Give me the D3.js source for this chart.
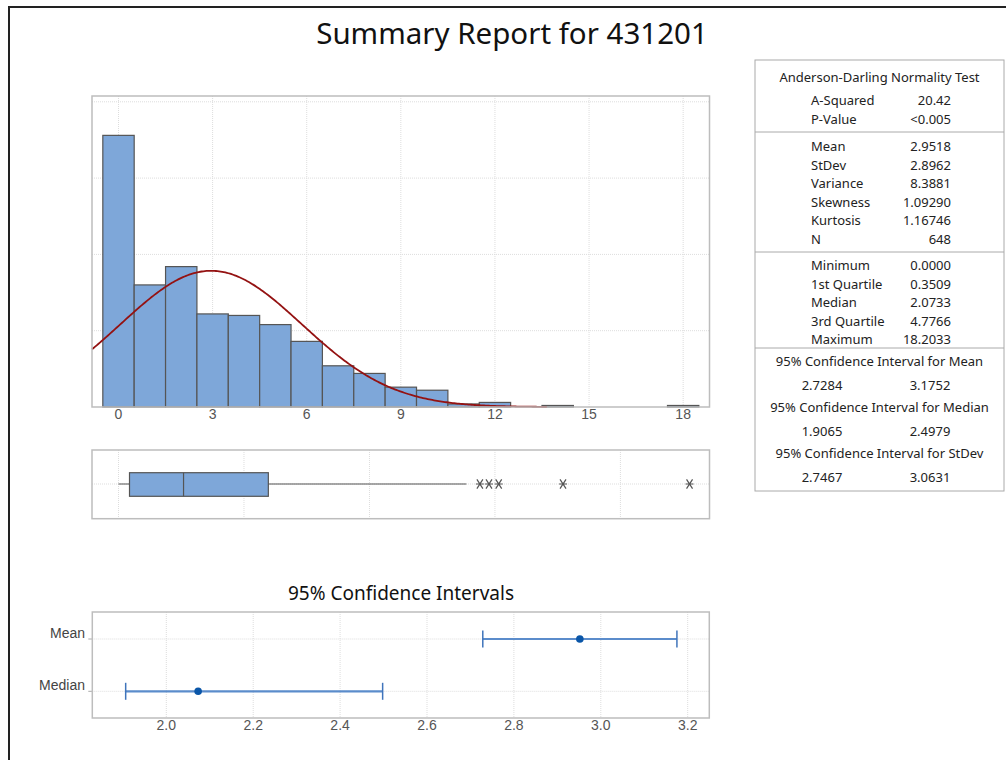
<!DOCTYPE html>
<html>
<head>
<meta charset="utf-8">
<script src="https://cdn.jsdelivr.net/npm/d3@7"></script>
<style>
  body { margin: 0; background: #fff; }
  svg { display: block; }
</style>
</head>
<body>
<svg id="chart" width="1006" height="760"></svg>
<script>
// histogram: bin centres (width 1) and counts
var binCenters = [0, 1, 2, 3, 4, 5, 6, 7, 8, 9, 10, 11, 12, 13, 14, 15, 16, 17, 18];
var binCounts = [178, 80, 92, 61, 60, 54, 43, 27, 22, 13, 11, 2, 3, 0, 1, 0, 0, 0, 1];
var histTicks = [0, 3, 6, 9, 12, 15, 18];
var histGridY = [50, 100, 150, 200];

// boxplot
var boxStats = {lo: 0, q1: 0.3509, med: 2.0733, q3: 4.7766, hi: 11.09};
var outliers = [11.52, 11.81, 12.12, 14.17, 18.2033];
var boxGrid = [0, 4, 8, 12, 16];

// confidence intervals
var ciRows = ['Mean', 'Median'];
var ciEst = [2.9518, 2.0733];
var ciLow = [2.7284, 1.9065];
var ciHigh = [3.1752, 2.4979];
var ciTicks = [2.0, 2.2, 2.4, 2.6, 2.8, 3.0, 3.2];

// summary table
var adRows = [['A-Squared', '20.42'], ['P-Value', '<0.005']];
var momentRows = [['Mean', '2.9518'], ['StDev', '2.8962'], ['Variance', '8.3881'],
                  ['Skewness', '1.09290'], ['Kurtosis', '1.16746'], ['N', '648']];
var quantRows = [['Minimum', '0.0000'], ['1st Quartile', '0.3509'], ['Median', '2.0733'],
                 ['3rd Quartile', '4.7766'], ['Maximum', '18.2033']];
var ciTable = [['95% Confidence Interval for Mean', '2.7284', '3.1752'],
               ['95% Confidence Interval for Median', '1.9065', '2.4979'],
               ['95% Confidence Interval for StDev', '2.7467', '3.0631']];

var N = 648, MEAN = 2.9518, SD = 2.8962;

var svg = d3.select('#chart');
var tickFont = '"Liberation Sans Narrow", "Liberation Sans", Arial, sans-serif';
var textFont = '"Noto Sans", "Open Sans", sans-serif';

// outer frame
svg.append('rect')
    .attr('x', 9).attr('y', 7).attr('width', 1100).attr('height', 800)
    .attr('fill', 'none').attr('stroke', '#222').attr('stroke-width', 2);

svg.append('text')
    .attr('x', 512).attr('y', 44)
    .attr('text-anchor', 'middle')
    .style('font-family', textFont).style('font-size', '29.5px').style('fill', '#111')
    .text('Summary Report for 431201');

// ---------- histogram ----------
var hx0 = 92, hx1 = 709.5, hy0 = 96, hy1 = 407;
var x = d3.scaleLinear()
    .domain([(hx0 - 118.5) / 31.37, (hx1 - 118.5) / 31.37])
    .range([hx0, hx1]);
var y = d3.scaleLinear().domain([0, (hy1 - hy0) / 1.526]).range([hy1, hy0]);

var hist = svg.append('g');

hist.selectAll('.vg').data(histTicks).enter().append('line')
    .attr('x1', function (d) { return x(d); }).attr('x2', function (d) { return x(d); })
    .attr('y1', hy0).attr('y2', hy1)
    .attr('stroke', '#ddd').attr('stroke-dasharray', '1,1');
hist.selectAll('.hg').data(histGridY).enter().append('line')
    .attr('x1', hx0).attr('x2', hx1)
    .attr('y1', function (d) { return y(d); }).attr('y2', function (d) { return y(d); })
    .attr('stroke', '#ddd').attr('stroke-dasharray', '1,1');

hist.selectAll('.bar').data(binCenters).enter().append('rect')
    .filter(function (d, i) { return binCounts[i] > 0; })
    .attr('x', function (d) { return x(d - 0.5); })
    .attr('width', function (d) { return x(d + 0.5) - x(d - 0.5); })
    .attr('y', function (d) { return y(binCounts[binCenters.indexOf(d)]); })
    .attr('height', function (d) { return hy1 - y(binCounts[binCenters.indexOf(d)]); })
    .attr('fill', '#7ea7d9').attr('stroke', '#555').attr('stroke-width', 1.2);

// fitted normal curve
var curveX = d3.range(x.domain()[0], 13.7, 0.05);
var normal = d3.line()
    .x(function (v) { return x(v); })
    .y(function (v) {
        var z = (v - MEAN) / SD;
        return y(N / (SD * Math.sqrt(2 * Math.PI)) * Math.exp(-0.5 * z * z));
    });
hist.append('path').datum(curveX)
    .attr('d', normal).attr('fill', 'none')
    .attr('stroke', '#941212').attr('stroke-width', 1.8);

hist.append('rect')
    .attr('x', hx0).attr('y', hy0).attr('width', hx1 - hx0).attr('height', hy1 - hy0)
    .attr('fill', 'none').attr('stroke', '#bdbdbd').attr('stroke-width', 1.5);

hist.selectAll('.xt').data(histTicks).enter().append('text')
    .attr('x', function (d) { return x(d); }).attr('y', 419)
    .attr('text-anchor', 'middle')
    .style('font-family', tickFont).style('font-size', '14px').style('fill', '#555')
    .text(function (d) { return d; });

// ---------- boxplot ----------
var by0 = 450, by1 = 518.7, bc = 484;
var box = svg.append('g');
box.selectAll('.bg').data(boxGrid).enter().append('line')
    .attr('x1', function (d) { return x(d); }).attr('x2', function (d) { return x(d); })
    .attr('y1', by0).attr('y2', by1)
    .attr('stroke', '#ddd').attr('stroke-dasharray', '1,1');
box.append('line')
    .attr('x1', hx0).attr('x2', hx1).attr('y1', bc).attr('y2', bc)
    .attr('stroke', '#ddd').attr('stroke-dasharray', '1,1');
box.append('line')
    .attr('x1', x(boxStats.lo)).attr('x2', x(boxStats.hi)).attr('y1', bc).attr('y2', bc)
    .attr('stroke', '#555').attr('stroke-width', 1.2);
box.append('rect')
    .attr('x', x(boxStats.q1)).attr('width', x(boxStats.q3) - x(boxStats.q1))
    .attr('y', 472.7).attr('height', 23.6)
    .attr('fill', '#7ea7d9').attr('stroke', '#555').attr('stroke-width', 1.2);
box.append('line')
    .attr('x1', x(boxStats.med)).attr('x2', x(boxStats.med)).attr('y1', 472.7).attr('y2', 496.3)
    .attr('stroke', '#555').attr('stroke-width', 1.2);
box.selectAll('.out').data(outliers).enter().append('path')
    .attr('transform', function (d) { return 'translate(' + x(d) + ',' + bc + ')'; })
    .attr('d', 'M-3,-4.6L3,4.6M3,-4.6L-3,4.6M-4,0L4,0')
    .attr('stroke', '#555').attr('stroke-width', 1.2).attr('fill', 'none');
box.append('rect')
    .attr('x', hx0).attr('y', by0).attr('width', hx1 - hx0).attr('height', by1 - by0)
    .attr('fill', 'none').attr('stroke', '#bdbdbd').attr('stroke-width', 1.5);

// ---------- confidence intervals ----------
var cx0 = 92.3, cx1 = 709.3, cy0 = 612, cy1 = 718;
var cx = d3.scaleLinear()
    .domain([2.0 - (166.3 - cx0) / 434.5, 2.0 + (cx1 - 166.3) / 434.5])
    .range([cx0, cx1]);
var cy = d3.scalePoint().domain(ciRows).range([639, 691.3]);

svg.append('text')
    .attr('x', 401).attr('y', 600)
    .attr('text-anchor', 'middle')
    .style('font-family', textFont).style('font-size', '19px').style('fill', '#111')
    .text('95% Confidence Intervals');

var ci = svg.append('g');
ci.selectAll('.cg').data(ciTicks).enter().append('line')
    .attr('x1', function (d) { return cx(d); }).attr('x2', function (d) { return cx(d); })
    .attr('y1', cy0).attr('y2', cy1)
    .attr('stroke', '#ddd').attr('stroke-dasharray', '1,1');
ci.selectAll('.rg').data(ciRows).enter().append('line')
    .attr('x1', cx0).attr('x2', cx1)
    .attr('y1', function (d) { return cy(d); }).attr('y2', function (d) { return cy(d); })
    .attr('stroke', '#ddd').attr('stroke-dasharray', '1,1');

ciRows.forEach(function (r, i) {
    var yy = cy(r);
    ci.append('line')
        .attr('x1', cx(ciLow[i])).attr('x2', cx(ciHigh[i])).attr('y1', yy).attr('y2', yy)
        .attr('stroke', '#5b8ccb').attr('stroke-width', 2.2);
    [ciLow[i], ciHigh[i]].forEach(function (v) {
        ci.append('line')
            .attr('x1', cx(v)).attr('x2', cx(v)).attr('y1', yy - 8.5).attr('y2', yy + 8.5)
            .attr('stroke', '#3f74bb').attr('stroke-width', 1.5);
    });
    ci.append('circle')
        .attr('cx', cx(ciEst[i])).attr('cy', yy).attr('r', 3.8)
        .attr('fill', '#0a56a8');
    ci.append('line')
        .attr('x1', cx0 - 4).attr('x2', cx0).attr('y1', yy).attr('y2', yy)
        .attr('stroke', '#aaa');
    ci.append('text')
        .attr('x', 85).attr('y', yy - 1)
        .attr('text-anchor', 'end')
        .style('font-family', tickFont).style('font-size', '14px').style('fill', '#444')
        .text(r);
});

ci.append('rect')
    .attr('x', cx0).attr('y', cy0).attr('width', cx1 - cx0).attr('height', cy1 - cy0)
    .attr('fill', 'none').attr('stroke', '#bdbdbd').attr('stroke-width', 1.5);

ci.selectAll('.ct').data(ciTicks).enter().append('text')
    .attr('x', function (d) { return cx(d); }).attr('y', 730)
    .attr('text-anchor', 'middle')
    .style('font-family', tickFont).style('font-size', '14px').style('fill', '#555')
    .text(function (d) { return d.toFixed(1); });

// ---------- summary table ----------
var tx0 = 755, tx1 = 1004, tmid = (tx0 + tx1) / 2;
var tab = svg.append('g')
    .style('font-family', textFont).style('font-size', '13px').style('fill', '#222');
tab.append('rect')
    .attr('x', tx0).attr('y', 60).attr('width', tx1 - tx0).attr('height', 431)
    .attr('fill', 'none').attr('stroke', '#aaa').attr('stroke-width', 1);
[132, 252, 348].forEach(function (yy) {
    tab.append('line').attr('x1', tx0).attr('x2', tx1).attr('y1', yy).attr('y2', yy)
        .attr('stroke', '#aaa');
});

tab.append('text').attr('x', tmid).attr('y', 82).attr('text-anchor', 'middle')
    .text('Anderson-Darling Normality Test');

function rows(data, y0) {
    data.forEach(function (r, i) {
        var yy = y0 + i * 18.5;
        tab.append('text').attr('x', 811).attr('y', yy).text(r[0]);
        tab.append('text').attr('x', 951).attr('y', yy).attr('text-anchor', 'end').text(r[1]);
    });
}
rows(adRows, 105);
rows(momentRows, 151);
rows(quantRows, 270);

ciTable.forEach(function (r, i) {
    var yy = 366 + i * 45.8;
    tab.append('text').attr('x', tmid).attr('y', yy).attr('text-anchor', 'middle').text(r[0]);
    tab.append('text').attr('x', 822).attr('y', yy + 24).attr('text-anchor', 'middle').text(r[1]);
    tab.append('text').attr('x', 930).attr('y', yy + 24).attr('text-anchor', 'middle').text(r[2]);
});
</script>
</body>
</html>
